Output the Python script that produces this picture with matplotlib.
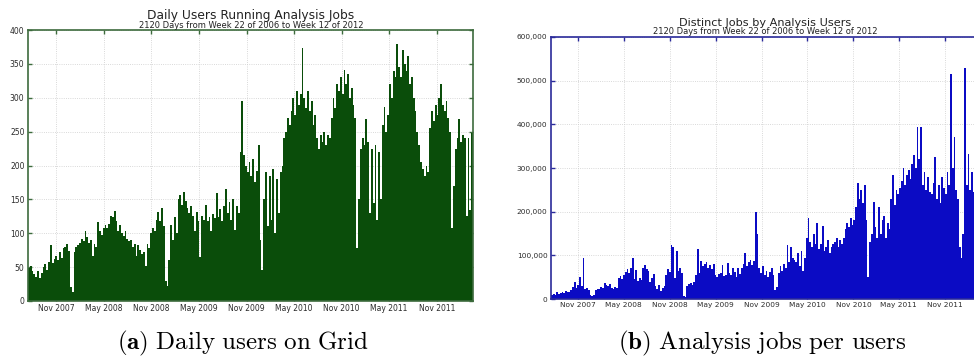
import numpy as np
import pandas as pd
import matplotlib
matplotlib.use('Agg')
import matplotlib.pyplot as plt
import matplotlib.dates as mdates
from matplotlib.ticker import MultipleLocator, FuncFormatter

plt.rcParams['mathtext.fontset'] = 'cm'

# weekly values, weeks starting 2007-07-16
week_start = '2007-07-16'
x_end = '2012-03-19'

users = [
    48, 52, 44, 40, 36, 44, 34, 42, 50, 54, 46,
    58, 82, 56, 62, 66, 60, 72, 64, 78, 80, 84, 74, 20, 14,
    72, 80, 82, 86, 92, 88, 104, 94, 86, 90, 66, 84, 80, 116, 104,
    98, 108, 112, 108, 114, 126, 124, 133, 118, 104,
    112, 100, 96, 104, 92, 88, 90, 80, 84, 66, 82, 76, 70, 72, 52,
    84, 78, 100, 108, 104, 120, 131, 118, 137, 110, 30, 22,
    60, 112, 90, 124, 100, 150, 156, 142, 161, 148, 138, 130, 140, 126, 104,
    132, 118, 65, 126, 120, 141, 118, 124, 104, 128, 122, 159, 124, 136, 118,
    140, 166, 130, 146, 120, 150, 105, 140, 130,
    220, 295, 215, 200, 190, 205, 185, 210, 175, 192, 230, 90, 46, 150, 190,
    110, 185, 120, 195, 100, 180, 130, 190, 200,
    240, 250, 270, 260, 280, 300, 275, 310, 290, 305, 373, 300, 285, 310, 280,
    295, 260, 275, 240, 225, 245, 235, 250, 230, 245, 240, 270, 300, 285, 320,
    310, 330, 305, 341, 320, 335, 300, 315, 290, 270,
    78, 150, 225, 240, 230, 268, 235, 130, 225, 145, 230, 120, 220, 150, 260,
    287, 250, 275, 321, 300, 340, 330, 380, 345, 330, 370, 350, 340, 361, 320,
    330, 300, 280, 250, 230, 205, 195, 185, 200, 190, 255, 280, 265, 290, 275,
    300, 321, 290, 280, 295, 270, 250,
    108, 170, 225, 240, 268, 235, 245, 240, 125, 240, 135, 248,
]

# distinct jobs, in thousands
jobs_k = [
    10, 12, 9, 15, 11, 14, 16, 13, 18, 15, 17, 20,
    28, 40, 25, 33, 51, 30, 93, 22, 25, 20, 9, 7, 10, 20,
    24, 22, 28, 25, 36, 33, 30, 34, 26, 24, 27, 25,
    48, 52, 45, 55, 62, 68, 60, 70, 93, 45, 67, 42, 48, 44,
    72, 77, 68, 65, 38, 48, 58, 30, 22, 33, 18, 25, 30,
    55, 68, 62, 123, 120, 48, 110, 65, 70, 60, 6, 5,
    30, 34, 36, 32, 38, 55, 115, 60,
    87, 75, 80, 85, 70, 78, 68, 80, 55, 50, 58, 60, 78, 52, 55,
    82, 60, 55, 70, 62, 50, 72, 58, 70, 80, 105, 75, 85, 90, 78, 88,
    200, 150, 70, 60, 75, 55, 65, 50, 62, 70, 55, 20, 28,
    60, 75, 65, 80, 70, 124, 85, 120, 95, 90, 85, 105, 75, 110, 65, 95,
    140, 185, 130, 120, 150, 125, 175,
    115, 125, 168, 110, 120, 135, 105, 118, 125,
    130, 140, 120, 135, 125, 140, 160, 175, 165, 185, 170, 180,
    210, 265, 230, 250, 220, 260, 180, 51,
    130, 150, 223, 165, 140, 210, 150, 180, 190, 140, 175, 160,
    230, 285, 215, 250, 240, 255, 270, 300, 260, 285, 295, 275,
    310, 330, 300, 395, 320, 395, 260, 290, 250, 280, 245,
    240, 265, 325, 230, 260, 220, 280, 255, 240, 290, 260,
    515, 300, 370, 250, 230, 120, 95, 150,
    528, 260, 333, 250, 290, 245, 265, 240, 250,
]

title_a = 'Daily Users Running Analysis Jobs'
title_b = 'Distinct Jobs by Analysis Users'
subtitle = '2120 Days from Week 22 of 2006 to Week 12 of 2012'
caption_a = r'$\mathbf{(a)}\ \mathrm{Daily\ users\ on\ Grid}$'
caption_b = r'$\mathbf{(b)}\ \mathrm{Analysis\ jobs\ per\ users}$'

weeks = pd.date_range(week_start, periods=len(users), freq='7D')

W, H = 974, 358
fig = plt.figure(figsize=(W / 100, H / 100), dpi=100)


def px_axes(x0, y0, x1, y1):
    return fig.add_axes([x0 / W, 1 - y1 / H, (x1 - x0) / W, (y1 - y0) / H])


def style(ax, edge, ymax, ystep, labelsize):
    ax.set_xlim(pd.Timestamp(week_start), pd.Timestamp(x_end))
    ax.set_ylim(0, ymax)
    ax.yaxis.set_major_locator(MultipleLocator(ystep))
    ax.xaxis.set_major_locator(mdates.MonthLocator(bymonth=[5, 11]))
    ax.xaxis.set_major_formatter(mdates.DateFormatter('%b %Y'))
    ax.tick_params(direction='in', top=True, right=True, length=3, width=1,
                   color=edge, labelsize=labelsize, labelcolor='#2b2b2b', pad=2.5)
    for s in ax.spines.values():
        s.set_color(edge)
        s.set_linewidth(1.2)
    ax.grid(True, ls=':', color='#cccccc', lw=0.6)
    ax.set_axisbelow(True)


# (a) daily users
ax1 = px_axes(28, 30, 473, 301)
ax1.bar(weeks, users, width=7, align='edge', color='#0a4d0a', linewidth=0)
style(ax1, '#3d6b3d', 400, 50, 5.5)

# (b) distinct jobs
ax2 = px_axes(551, 37, 980, 299)
ax2.bar(weeks, np.array(jobs_k) * 1000, width=7, align='edge', color='#0b0bc4', linewidth=0)
style(ax2, '#2a2a9a', 600000, 100000, 5.3)
ax2.yaxis.set_major_formatter(FuncFormatter(lambda v, p: f'{int(v):,}'))

fig.text(251 / W, 1 - 18.5 / H, title_a, ha='center', va='baseline', fontsize=8.8, color='#222222')
fig.text(251 / W, 1 - 27.5 / H, subtitle, ha='center', va='baseline', fontsize=6, color='#222222')
fig.text(765 / W, 1 - 25.5 / H, title_b, ha='center', va='baseline', fontsize=8.1, color='#222222')
fig.text(765 / W, 1 - 34.5 / H, subtitle, ha='center', va='baseline', fontsize=6, color='#222222')

fig.text(243 / W, 1 - 349 / H, caption_a, ha='center', va='baseline', fontsize=18)
fig.text(762 / W, 1 - 349 / H, caption_b, ha='center', va='baseline', fontsize=18)

fig.savefig('out.png', dpi=100)
